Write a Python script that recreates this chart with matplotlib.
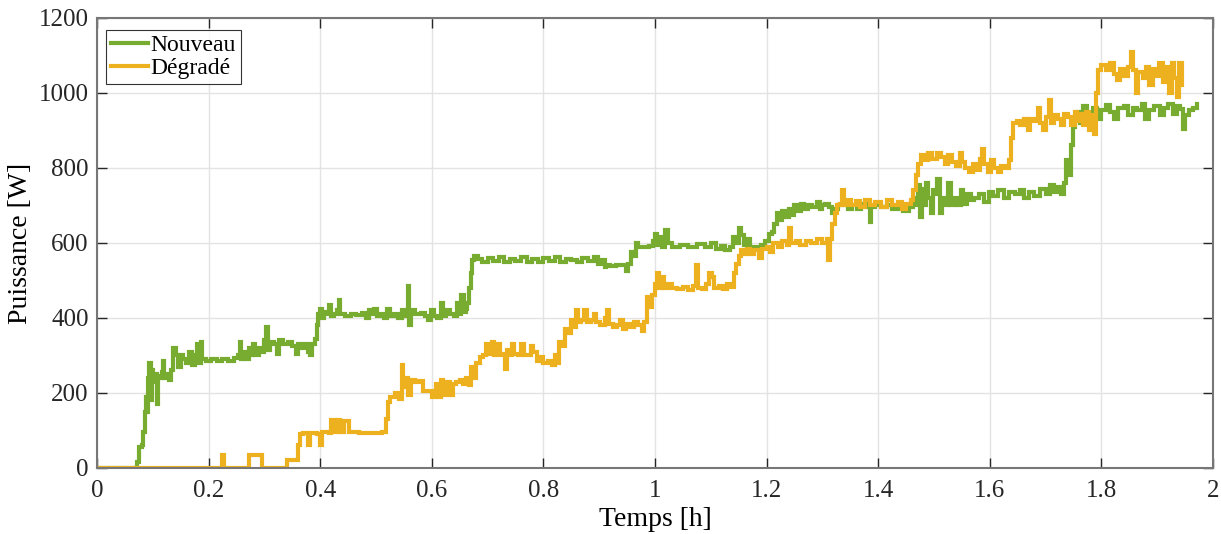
import matplotlib
matplotlib.use('Agg')
from matplotlib import pyplot as plt
from matplotlib.ticker import FormatStrFormatter, FuncFormatter

nouveau_t = [0.000, 0.072, 0.076, 0.080, 0.083, 0.086, 0.088, 0.090, 0.092, 0.094, 0.096, 0.098,
             0.101, 0.104, 0.107, 0.110, 0.113, 0.116, 0.119, 0.121, 0.125, 0.129, 0.133, 0.137,
             0.141, 0.145, 0.150, 0.155, 0.160, 0.165, 0.170, 0.176, 0.180, 0.183, 0.186, 0.189,
             0.195, 0.205, 0.215, 0.225, 0.235, 0.245, 0.252, 0.256, 0.259, 0.264, 0.268, 0.272,
             0.276, 0.280, 0.284, 0.290, 0.296, 0.300, 0.303, 0.306, 0.310, 0.318, 0.322, 0.326,
             0.334, 0.342, 0.350, 0.356, 0.360, 0.366, 0.372, 0.378, 0.382, 0.386, 0.390, 0.394,
             0.397, 0.400, 0.403, 0.407, 0.412, 0.416, 0.419, 0.424, 0.430, 0.433, 0.436, 0.445,
             0.455, 0.465, 0.475, 0.483, 0.487, 0.492, 0.497, 0.502, 0.508, 0.515, 0.520, 0.525,
             0.532, 0.540, 0.546, 0.552, 0.557, 0.560, 0.563, 0.570, 0.580, 0.588, 0.594, 0.598,
             0.604, 0.610, 0.616, 0.620, 0.626, 0.632, 0.640, 0.645, 0.649, 0.653, 0.657, 0.661,
             0.664, 0.667, 0.670, 0.673, 0.676, 0.682, 0.690, 0.700, 0.710, 0.720, 0.730, 0.740,
             0.750, 0.760, 0.770, 0.780, 0.790, 0.800, 0.810, 0.820, 0.830, 0.840, 0.850, 0.860,
             0.870, 0.880, 0.890, 0.898, 0.905, 0.910, 0.913, 0.920, 0.930, 0.944, 0.948, 0.952,
             0.957, 0.962, 0.966, 0.970, 0.980, 0.990, 0.996, 1.000, 1.004, 1.008, 1.012, 1.018,
             1.023, 1.030, 1.045, 1.060, 1.075, 1.090, 1.100, 1.110, 1.118, 1.125, 1.135, 1.140,
             1.145, 1.150, 1.155, 1.160, 1.165, 1.170, 1.178, 1.190, 1.198, 1.205, 1.210, 1.214,
             1.218, 1.222, 1.228, 1.235, 1.240, 1.245, 1.250, 1.255, 1.262, 1.268, 1.275, 1.282,
             1.290, 1.296, 1.300, 1.305, 1.312, 1.318, 1.322, 1.328, 1.338, 1.346, 1.354, 1.362,
             1.370, 1.380, 1.385, 1.388, 1.395, 1.405, 1.415, 1.425, 1.435, 1.445, 1.455, 1.462,
             1.468, 1.472, 1.475, 1.478, 1.482, 1.486, 1.490, 1.494, 1.498, 1.502, 1.506, 1.510,
             1.514, 1.520, 1.526, 1.530, 1.536, 1.542, 1.548, 1.552, 1.560, 1.566, 1.572, 1.580,
             1.590, 1.598, 1.605, 1.615, 1.625, 1.635, 1.645, 1.655, 1.662, 1.670, 1.680, 1.690,
             1.700, 1.708, 1.715, 1.722, 1.728, 1.733, 1.737, 1.741, 1.745, 1.749, 1.753, 1.757,
             1.762, 1.768, 1.775, 1.785, 1.792, 1.800, 1.808, 1.816, 1.822, 1.830, 1.840, 1.848,
             1.856, 1.864, 1.872, 1.878, 1.885, 1.895, 1.905, 1.912, 1.920, 1.928, 1.935, 1.941,
             1.946, 1.950, 1.957, 1.965, 1.972]
nouveau_p = [0, 15, 55, 60, 95, 150, 190, 150, 240, 280, 180, 260,
             230, 250, 170, 245, 240, 255, 285, 240, 250, 235, 260, 320,
             300, 270, 300, 290, 280, 310, 275, 300, 330, 280, 335, 290,
             285, 290, 285, 290, 285, 292, 300, 335, 290, 310, 290, 320,
             300, 330, 300, 320, 310, 340, 375, 315, 335, 330, 305, 340,
             330, 335, 325, 305, 330, 320, 330, 310, 300, 330, 345, 380,
             410, 425, 400, 415, 410, 435, 405, 410, 420, 448, 410, 405,
             410, 408, 412, 400, 420, 410, 425, 405, 410, 400, 425, 405,
             410, 400, 420, 405, 485, 380, 420, 410, 412, 405, 395, 420,
             405, 400, 440, 405, 420, 410, 405, 440, 410, 460, 415, 425,
             440, 480, 520, 555, 565, 558, 550, 560, 552, 562, 550, 558,
             553, 562, 550, 558, 548, 560, 552, 562, 550, 558, 555, 548,
             560, 553, 562, 545, 555, 535, 540, 538, 540, 540, 525, 545,
             575, 565, 600, 590, 588, 592, 605, 625, 595, 615, 590, 635,
             600, 590, 595, 588, 598, 590, 600, 585, 592, 580, 590, 615,
             600, 640, 620, 595, 610, 580, 590, 595, 605, 625, 630, 650,
             680, 660, 685, 670, 690, 675, 700, 685, 705, 690, 700, 695,
             710, 690, 700, 705, 695, 680, 690, 700, 705, 690, 700, 690,
             705, 695, 655, 695, 700, 695, 700, 690, 700, 685, 695, 720,
             700, 755, 670, 745, 700, 760, 720, 680, 740, 730, 770, 680,
             720, 700, 760, 700, 720, 700, 740, 705, 730, 715, 720, 730,
             710, 735, 725, 740, 720, 735, 730, 740, 720, 735, 725, 745,
             730, 755, 735, 750, 730, 760, 820, 780, 860, 910, 935, 950,
             920, 965, 945, 960, 930, 955, 968, 950, 930, 960, 965, 940,
             960, 955, 970, 930, 955, 965, 940, 960, 970, 945, 965, 958,
             905, 940, 955, 960, 970]

degrade_t = [0.000, 0.224, 0.228, 0.272, 0.296, 0.340, 0.361, 0.364, 0.370, 0.378, 0.382, 0.395,
             0.400, 0.404, 0.415, 0.420, 0.426, 0.432, 0.436, 0.442, 0.452, 0.470, 0.490, 0.510,
             0.518, 0.521, 0.525, 0.535, 0.542, 0.546, 0.549, 0.554, 0.558, 0.562, 0.570, 0.578,
             0.584, 0.594, 0.600, 0.604, 0.608, 0.612, 0.617, 0.620, 0.626, 0.632, 0.638, 0.644,
             0.650, 0.656, 0.662, 0.667, 0.670, 0.674, 0.680, 0.686, 0.692, 0.698, 0.704, 0.708,
             0.712, 0.716, 0.722, 0.728, 0.732, 0.735, 0.740, 0.744, 0.748, 0.754, 0.760, 0.766,
             0.772, 0.777, 0.782, 0.788, 0.794, 0.800, 0.808, 0.815, 0.820, 0.824, 0.828, 0.834,
             0.838, 0.845, 0.850, 0.855, 0.858, 0.862, 0.868, 0.873, 0.878, 0.885, 0.890, 0.895,
             0.902, 0.910, 0.914, 0.918, 0.925, 0.932, 0.938, 0.942, 0.948, 0.955, 0.962, 0.970,
             0.977, 0.981, 0.986, 0.990, 0.995, 1.000, 1.003, 1.007, 1.012, 1.016, 1.024, 1.030,
             1.040, 1.050, 1.060, 1.068, 1.074, 1.077, 1.085, 1.092, 1.096, 1.102, 1.106, 1.115,
             1.122, 1.130, 1.137, 1.142, 1.146, 1.150, 1.154, 1.158, 1.165, 1.170, 1.178, 1.186,
             1.192, 1.200, 1.206, 1.212, 1.220, 1.228, 1.236, 1.240, 1.243, 1.252, 1.260, 1.270,
             1.280, 1.290, 1.300, 1.308, 1.311, 1.314, 1.318, 1.322, 1.326, 1.332, 1.336, 1.339,
             1.345, 1.352, 1.360, 1.368, 1.376, 1.385, 1.395, 1.405, 1.415, 1.425, 1.435, 1.443,
             1.450, 1.458, 1.463, 1.468, 1.472, 1.477, 1.484, 1.490, 1.497, 1.505, 1.512, 1.520,
             1.526, 1.532, 1.540, 1.546, 1.550, 1.556, 1.562, 1.570, 1.576, 1.582, 1.586, 1.590,
             1.596, 1.602, 1.608, 1.614, 1.620, 1.628, 1.634, 1.638, 1.642, 1.648, 1.655, 1.662,
             1.668, 1.673, 1.680, 1.686, 1.690, 1.696, 1.700, 1.706, 1.710, 1.716, 1.722, 1.727,
             1.733, 1.740, 1.746, 1.752, 1.756, 1.762, 1.768, 1.772, 1.777, 1.782, 1.786, 1.790,
             1.794, 1.800, 1.808, 1.815, 1.822, 1.828, 1.834, 1.840, 1.848, 1.854, 1.857, 1.862,
             1.866, 1.874, 1.880, 1.886, 1.892, 1.898, 1.904, 1.910, 1.916, 1.922, 1.926, 1.931,
             1.936, 1.940, 1.944]
degrade_p = [0, 35, 0, 35, 0, 20, 60, 90, 92, 60, 92, 90,
             60, 95, 92, 128, 95, 128, 95, 125, 95, 92, 92, 95,
             130, 175, 190, 200, 185, 275, 215, 240, 195, 235, 230, 232,
             205, 205, 190, 200, 225, 190, 235, 195, 230, 195, 225, 230,
             235, 225, 240, 220, 270, 240, 280, 295, 300, 330, 305, 335,
             300, 330, 300, 305, 265, 315, 300, 330, 305, 300, 330, 300,
             300, 325, 310, 285, 295, 280, 285, 275, 300, 280, 335, 325,
             370, 360, 395, 375, 420, 390, 395, 420, 390, 395, 410, 390,
             380, 400, 420, 385, 375, 380, 395, 370, 385, 375, 390, 380,
             365, 390, 455, 430, 460, 490, 520, 480, 510, 480, 490, 480,
             478, 482, 475, 485, 540, 480, 478, 490, 520, 510, 480, 485,
             478, 490, 482, 520, 545, 565, 580, 570, 585, 570, 580, 560,
             585, 590, 575, 600, 590, 605, 595, 640, 600, 605, 595, 605,
             600, 610, 600, 610, 555, 610, 650, 680, 700, 705, 740, 700,
             715, 700, 712, 695, 715, 700, 710, 695, 715, 700, 710, 690,
             705, 715, 740, 780, 810, 835, 820, 840, 825, 840, 830, 810,
             835, 815, 805, 840, 815, 800, 790, 810, 795, 825, 850, 810,
             790, 820, 800, 790, 805, 800, 820, 880, 920, 925, 915, 930,
             900, 930, 925, 960, 920, 900, 935, 980, 920, 940, 930, 915,
             945, 935, 915, 950, 925, 945, 915, 950, 900, 940, 890, 1000,
             1060, 1075, 1060, 1080, 1050, 1035, 1065, 1045, 1070, 1110, 1060, 1000,
             1055, 1040, 1070, 1020, 1065, 1045, 1080, 1030, 1070, 1000, 1080, 1040,
             990, 1080, 1020]

x_ticks = [0, 0.2, 0.4, 0.6, 0.8, 1, 1.2, 1.4, 1.6, 1.8, 2]
y_ticks = [0, 200, 400, 600, 800, 1000, 1200]

plt.rcParams['font.family'] = ['Liberation Serif', 'DejaVu Serif']

fig = plt.figure(figsize=(12.21, 5.34), dpi=100)
ax = fig.add_axes([0.0794, 0.1236, 0.9140, 0.8427])

ax.plot(nouveau_t, nouveau_p, drawstyle='steps-post', color='#77AC30', lw=3.0,
        solid_joinstyle='miter', label='Nouveau')
ax.plot(degrade_t, degrade_p, drawstyle='steps-post', color='#EDB120', lw=3.0,
        solid_joinstyle='miter', label='Dégradé')

ax.set_xlim(0, 2)
ax.set_ylim(0, 1200)
ax.set_xticks(x_ticks)
ax.set_yticks(y_ticks)
ax.xaxis.set_major_formatter(FuncFormatter(lambda v, pos: '%g' % v))
ax.yaxis.set_major_formatter(FormatStrFormatter('%d'))

# style MATLAB : grille claire, graduations vers l'intérieur sur les 4 côtés
ax.grid(color='#e3e3e3', linewidth=1.0)
ax.set_axisbelow(True)
ax.tick_params(direction='in', length=7, width=1.0, top=True, right=True,
               labelsize=18, colors='#262626')
ax.tick_params(axis='x', pad=9)
ax.tick_params(axis='y', pad=6)
for side in ax.spines.values():
    side.set_color('#777777')
    side.set_linewidth(1.5)

ax.set_xlabel('Temps [h]', fontsize=20, labelpad=3)
ax.set_ylabel('Puissance [W]', fontsize=20, labelpad=4)

leg = ax.legend(loc='upper left', fontsize=17, frameon=True, fancybox=False,
                handlelength=1.6, handletextpad=0.1, borderpad=0.2, labelspacing=0.05,
                borderaxespad=0.0, bbox_to_anchor=(0.008, 0.973))
leg.get_frame().set_edgecolor('black')
leg.get_frame().set_linewidth(0.8)

fig.savefig('out.png', dpi=100)
